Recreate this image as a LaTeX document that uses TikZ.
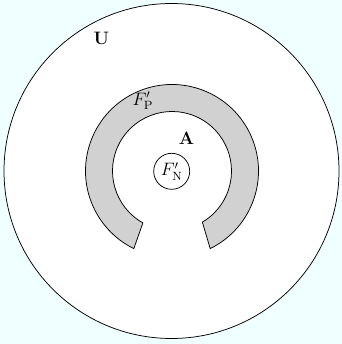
\documentclass[tikz,border=0pt]{standalone}
\usetikzlibrary{calc}
\definecolor{bgc}{RGB}{240,255,255}
\definecolor{ringgray}{RGB}{209,209,209}
\begin{document}
\begin{tikzpicture}[x=0.6667pt,y=0.6667pt,line width=0.5pt,
  font=\fontsize{12}{14}\selectfont,
  region/.style={draw=black},
  band/.style={draw=black,fill=ringgray},
  lbl/.style={inner sep=0pt}]
  % canvas
  \fill[bgc] (0,0) rectangle (342,344);
  \useasboundingbox (0,0) rectangle (342,344);
  % universe
  \draw[region,fill=white] (171.5,173) circle [radius=167.5];
  % open ring around A
  \coordinate (c) at (172,173);
  \draw[band] ($(c)+(-63.8:86.5)$) arc [start angle=-63.8,end angle=243.8,radius=86.5]
    -- ($(c)+(240.7:59.5)$) arc [start angle=240.7,end angle=-59.3,radius=59.5] -- cycle;
  % inner set
  \node[region,circle,minimum size=36*0.6667pt,inner sep=0pt] (fn) at (171.7,172.7) {$F'_{\mathrm{N}}$};
  % labels
  \node[lbl] (u) at (101.3,305.7) {\textbf{U}};
  \node[lbl] (fp) at (143,243) {$F'_{\mathrm{P}}$};
  \node[lbl] (a) at (186.5,206) {\textbf{A}};
\end{tikzpicture}
\end{document}
